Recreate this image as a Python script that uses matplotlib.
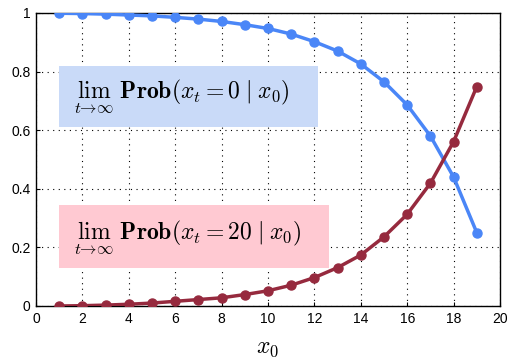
import numpy as np
import matplotlib
matplotlib.use('Agg')
import matplotlib.pyplot as plt
from matplotlib.patches import Rectangle

plt.rcParams['mathtext.fontset'] = 'cm'
plt.rcParams['font.family'] = ['Liberation Sans', 'DejaVu Sans']

# --- data ---
x0 = [1, 2, 3, 4, 5, 6, 7, 8, 9, 10, 11, 12, 13, 14, 15, 16, 17, 18, 19]
prob_zero = [0.999, 0.998, 0.996, 0.993, 0.990, 0.985, 0.979, 0.971, 0.960, 0.947,
             0.928, 0.902, 0.870, 0.826, 0.765, 0.686, 0.580, 0.440, 0.250]
prob_twenty = [0.000, 0.001, 0.003, 0.006, 0.010, 0.016, 0.022, 0.028, 0.039, 0.052,
               0.071, 0.097, 0.131, 0.174, 0.236, 0.313, 0.419, 0.561, 0.749]
xticks = np.arange(0, 21, 2)
yticks = [0, 0.2, 0.4, 0.6, 0.8, 1]
ytick_labels = ['0', '0.2', '0.4', '0.6', '0.8', '1']

fig = plt.figure(figsize=(5.11, 3.62), dpi=100)
ax = fig.add_axes([0.0705, 0.1547, 0.908, 0.8095])

ax.plot(x0, prob_zero, '-o', color='#4a86f7', lw=2.5, ms=6.5, zorder=3)
ax.plot(x0, prob_twenty, '-o', color='#962a3e', lw=2.5, ms=6.5, zorder=3)

ax.set_xlim(0, 20)
ax.set_ylim(0, 1)
ax.set_xticks(xticks)
ax.set_yticks(yticks)
ax.set_yticklabels(ytick_labels)
ax.tick_params(direction='in', length=3, labelsize=10, pad=4)
ax.grid(True, linestyle=(0, (1, 4)), color='black', lw=0.8)
for s in ax.spines.values():
    s.set_linewidth(1.0)

ax.set_xlabel(r'$x_0$', fontsize=17, labelpad=8)

# annotation boxes
ax.add_patch(Rectangle((0.99, 0.61), 11.17, 0.21, fc='#c9daf8', ec='none', zorder=2))
ax.add_patch(Rectangle((0.99, 0.13), 11.64, 0.215, fc='#ffc9d2', ec='none', zorder=2))
ax.text(1.65, 0.715, r'$\lim_{t\to\infty}\ \mathbf{Prob}(x_t\! = 0\;|\;x_0)$',
        fontsize=17, va='center', ha='left', zorder=2.5)
ax.text(1.65, 0.237, r'$\lim_{t\to\infty}\ \mathbf{Prob}(x_t\! = 20\;|\;x_0)$',
        fontsize=17, va='center', ha='left', zorder=2.5)

fig.savefig('out.png', dpi=100)
